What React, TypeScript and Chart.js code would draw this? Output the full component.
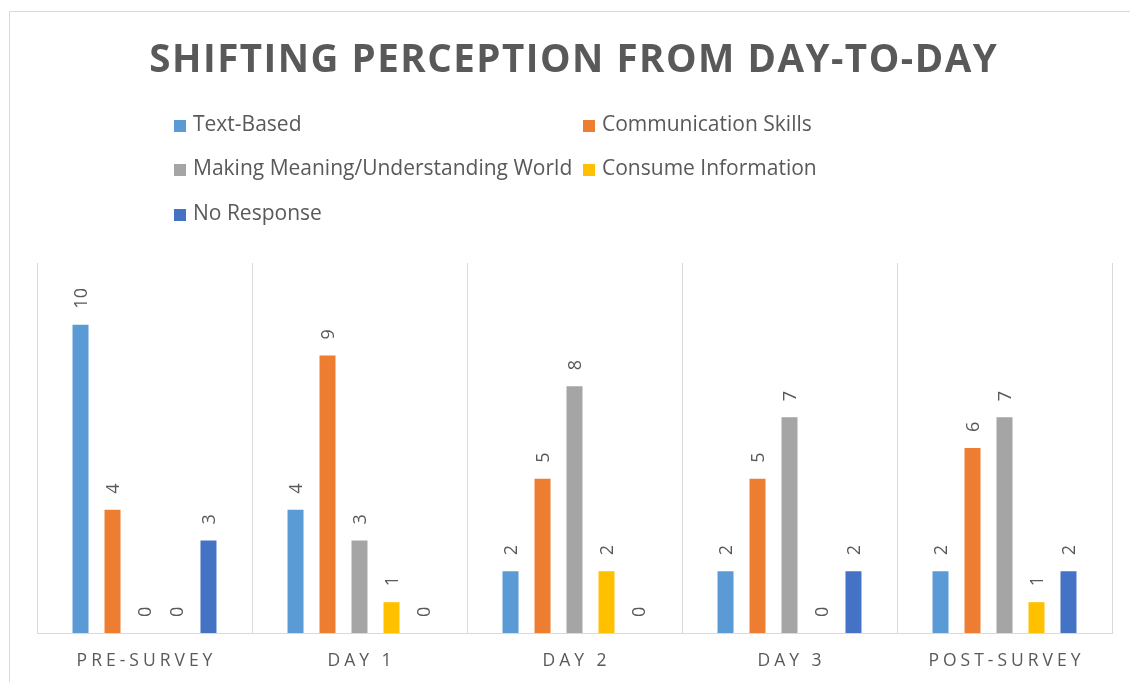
import React, { useEffect, useRef } from "react";
import { Chart, registerables } from "chart.js";

Chart.register(...registerables);

const chartTitle = "SHIFTING PERCEPTION FROM DAY-TO-DAY";
const categories = ["PRE-SURVEY", "DAY 1", "DAY 2", "DAY 3", "POST-SURVEY"];
const seriesNames = [
  "Text-Based",
  "Communication Skills",
  "Making Meaning/Understanding World",
  "Consume Information",
  "No Response",
];
const textBased = [10, 4, 2, 2, 2];
const communicationSkills = [4, 9, 5, 5, 6];
const makingMeaning = [0, 3, 8, 7, 7];
const consumeInformation = [0, 1, 2, 0, 1];
const noResponse = [3, 0, 0, 2, 2];
const seriesColors = ["#5B9BD5", "#ED7D31", "#A5A5A5", "#FFC000", "#4472C4"];

const FONT = '"Open Sans", "Noto Sans", sans-serif';
const TEXT_COLOR = "#595959";
const GRID_COLOR = "#D9D9D9";

// legend grid layout (2 columns, 3 rows)
const legendCols = [174, 583];
const legendRows = [125, 169, 214];

const customPlugin = {
  id: "customDraw",
  beforeDraw(chart: any) {
    const ctx = chart.ctx;
    ctx.save();
    ctx.fillStyle = "#FFFFFF";
    ctx.fillRect(0, 0, chart.width, chart.height);
    ctx.strokeStyle = GRID_COLOR;
    ctx.lineWidth = 1;
    ctx.beginPath();
    ctx.moveTo(9.5, chart.height);
    ctx.lineTo(9.5, 11.5);
    ctx.lineTo(chart.width, 11.5);
    ctx.stroke();
    ctx.restore();
  },
  afterDraw(chart: any) {
    const ctx = chart.ctx;
    // Title
    ctx.save();
    ctx.fillStyle = TEXT_COLOR;
    ctx.font = `bold 38.5px ${FONT}`;
    (ctx as any).letterSpacing = "1.5px";
    ctx.textAlign = "center";
    ctx.textBaseline = "alphabetic";
    ctx.fillText(chartTitle, 573 + 0.75, 72);
    ctx.restore();

    // Legend
    ctx.save();
    ctx.font = `21px ${FONT}`;
    ctx.textBaseline = "middle";
    ctx.textAlign = "left";
    chart.data.datasets.forEach((ds: any, i: number) => {
      const col = i % 2;
      const row = Math.floor(i / 2);
      const x = legendCols[col];
      const y = legendRows[row];
      ctx.fillStyle = ds.backgroundColor;
      ctx.fillRect(x, y - 5, 12, 12);
      ctx.fillStyle = TEXT_COLOR;
      ctx.fillText(ds.label, x + 19, y);
    });
    ctx.restore();

    // X labels
    const xScale = chart.scales.x;
    ctx.save();
    ctx.font = `17.5px ${FONT}`;
    const sp = 4;
    (ctx as any).letterSpacing = `${sp}px`;
    ctx.fillStyle = TEXT_COLOR;
    ctx.textAlign = "center";
    ctx.textBaseline = "middle";
    chart.data.labels.forEach((lab: string, i: number) => {
      ctx.fillText(lab, xScale.getPixelForValue(i) + sp / 2, 661);
    });
    ctx.restore();

    // Data labels (rotated)
    ctx.save();
    ctx.font = `18px ${FONT}`;
    ctx.fillStyle = TEXT_COLOR;
    ctx.textAlign = "left";
    ctx.textBaseline = "middle";
    chart.data.datasets.forEach((ds: any, i: number) => {
      const meta = chart.getDatasetMeta(i);
      meta.data.forEach((el: any, j: number) => {
        ctx.save();
        ctx.translate(el.x, el.y - 16);
        ctx.rotate(-Math.PI / 2);
        ctx.fillText(String(ds.data[j]), 0, 1);
        ctx.restore();
      });
    });
    ctx.restore();
  },
};

export default function App() {
  const ref = useRef<HTMLCanvasElement | null>(null);
  useEffect(() => {
    if (!ref.current) return;
    const values = [textBased, communicationSkills, makingMeaning, consumeInformation, noResponse];
    const chart = new Chart(ref.current, {
      type: "bar",
      data: {
        labels: categories,
        datasets: seriesNames.map((name, i) => ({
          label: name,
          data: values[i],
          backgroundColor: seriesColors[i],
          borderWidth: 0,
          categoryPercentage: 0.744,
          barPercentage: 0.5,
        })),
      },
      options: {
        responsive: false,
        animation: false,
        events: [],
        layout: { padding: { left: 37, right: 18, top: 263, bottom: 49 } },
        plugins: {
          legend: { display: false },
          title: { display: false },
          tooltip: { enabled: false },
        },
        scales: {
          x: {
            offset: true,
            grid: {
              display: true,
              offset: true,
              color: GRID_COLOR,
              lineWidth: 1,
              drawTicks: false,
              tickLength: 0,
            },
            border: { display: true, color: GRID_COLOR, width: 1 },
            ticks: { display: false },
          },
          y: {
            display: false,
            min: 0,
            max: 12,
          },
        },
      },
      plugins: [customPlugin],
    });
    return () => chart.destroy();
  }, []);
  return (
    <div style={{ position: "absolute", left: 0, top: 0, width: 1130, height: 682 }}>
      <canvas ref={ref} width={1130} height={682} />
    </div>
  );
}
